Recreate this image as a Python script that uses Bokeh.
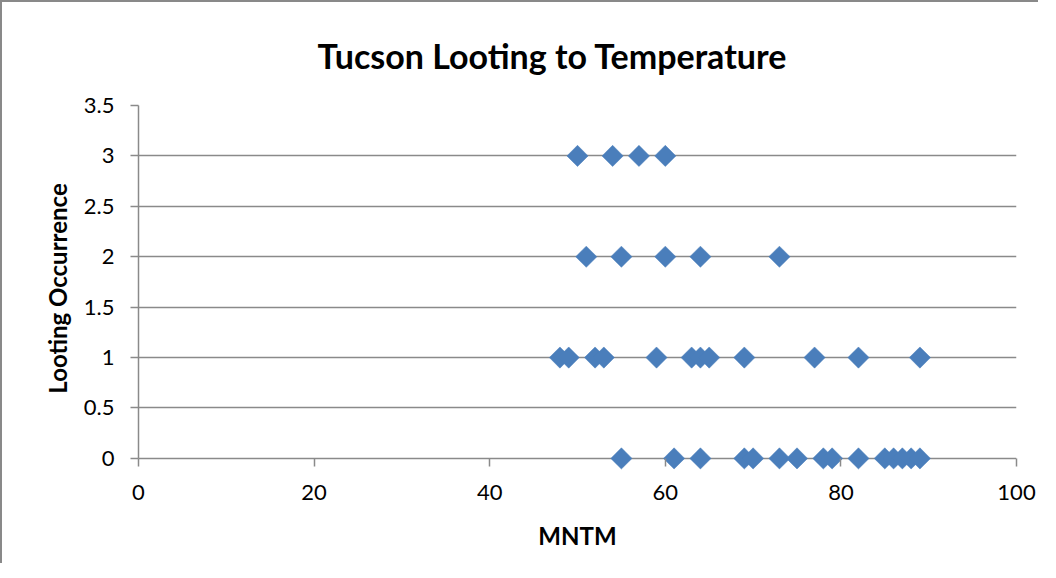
import numpy as np
from bokeh.plotting import figure
from bokeh.models import Range1d, FixedTicker, ColumnDataSource
from bokeh.embed import file_html
from bokeh.resources import INLINE

# MNTM (temperature) values for each looting-occurrence level
mntm_3 = [50, 54, 57, 60]
mntm_2 = [51, 55, 60, 64, 73]
mntm_1 = [48, 49, 52, 53, 59, 63, 64, 65, 69, 77, 82, 89]
mntm_0 = [55, 61, 64, 69, 70, 73, 75, 78, 79, 82, 85, 86, 87, 88, 89]

x_ticks = [0, 20, 40, 60, 80, 100]
y_ticks = [0, 0.5, 1, 1.5, 2, 2.5, 3, 3.5]
y_labels = ["0", "0.5", "1", "1.5", "2", "2.5", "3", "3.5"]

xs = mntm_3 + mntm_2 + mntm_1 + mntm_0
ys = [3] * len(mntm_3) + [2] * len(mntm_2) + [1] * len(mntm_1) + [0] * len(mntm_0)
src = ColumnDataSource(dict(x=xs, y=ys))

GRAY = "#8a8a8a"
FONT = "Lato"

p = figure(
    frame_width=878, frame_height=366,
    min_border_left=136, min_border_right=22, min_border_top=102, min_border_bottom=92,
    x_range=Range1d(0, 100), y_range=Range1d(-0.13, 3.5),
    output_backend="svg", toolbar_location=None,
    title="Tucson Looting to Temperature",
)
p.styles = {"border-left": "2px solid #898989", "border-top": "2px solid #898989"}

p.title.text_font = FONT
p.title.text_font_size = "34px"
p.title.text_font_style = "bold"
p.title.text_color = "black"
p.title.align = "left"
p.title.offset = 179
p.title.standoff = 60

p.outline_line_color = None
p.background_fill_color = "white"
p.border_fill_color = "white"

p.xgrid.visible = False
p.ygrid.ticker = FixedTicker(ticks=y_ticks)
p.ygrid.grid_line_color = GRAY
p.ygrid.grid_line_width = 1.5

# x axis
p.xaxis.ticker = FixedTicker(ticks=x_ticks)
p.xaxis.axis_line_color = None
p.xaxis.major_tick_line_color = GRAY
p.xaxis.major_tick_line_width = 1.5
p.xaxis.major_tick_in = 13
p.xaxis.major_tick_out = -5
p.xaxis.minor_tick_line_color = None
p.xaxis.major_label_standoff = 13
p.xaxis.major_label_text_font = FONT
p.xaxis.major_label_text_font_size = "22px"
p.xaxis.major_label_text_color = "black"
p.xaxis.axis_label = "MNTM"
p.xaxis.axis_label_text_font = FONT
p.xaxis.axis_label_text_font_size = "24px"
p.xaxis.axis_label_text_font_style = "bold"
p.xaxis.axis_label_text_color = "black"
p.xaxis.axis_label_standoff = 18

# y axis
p.yaxis.ticker = FixedTicker(ticks=y_ticks)
p.yaxis.major_label_overrides = {t: l for t, l in zip(y_ticks, y_labels)}
p.yaxis.bounds = (0, 3.5)
p.yaxis.axis_line_color = GRAY
p.yaxis.axis_line_width = 1.5
p.yaxis.major_tick_line_color = GRAY
p.yaxis.major_tick_line_width = 1.5
p.yaxis.major_tick_in = 0
p.yaxis.major_tick_out = 8
p.yaxis.minor_tick_line_color = None
p.yaxis.major_label_standoff = 16
p.yaxis.major_label_text_font = FONT
p.yaxis.major_label_text_font_size = "22px"
p.yaxis.major_label_text_color = "black"
p.yaxis.axis_label = "Looting Occurrence"
p.yaxis.axis_label_text_font = FONT
p.yaxis.axis_label_text_font_size = "24px"
p.yaxis.axis_label_text_font_style = "bold"
p.yaxis.axis_label_text_color = "black"
p.yaxis.axis_label_standoff = 9

p.scatter("x", "y", source=src, marker="square", size=15, angle=np.pi / 4,
          fill_color="#4A7EBB", line_color="#4A7EBB", line_width=0.5)

open("out.html", "w").write(file_html(p, INLINE))
